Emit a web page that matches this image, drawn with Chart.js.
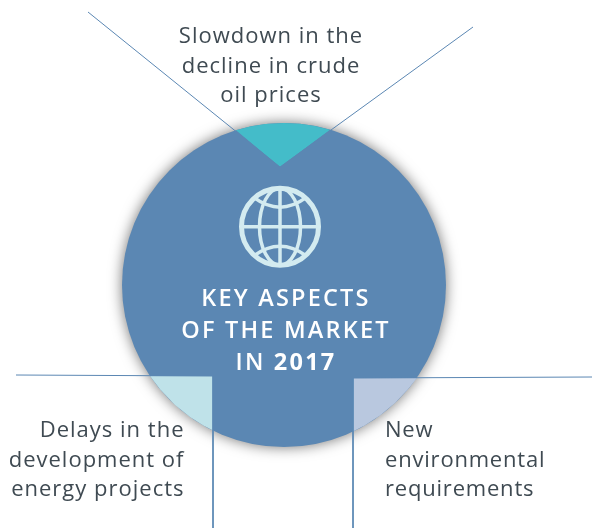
<!DOCTYPE html>
<html>
<head>
<meta charset="utf-8">
<style>
  html, body { margin: 0; padding: 0; background: #fff; }
  #wrap { position: relative; width: 592px; height: 528px; }
</style>
</head>
<body>
<div id="wrap"><canvas id="chart" width="592" height="528"></canvas></div>
<script src="https://cdn.jsdelivr.net/npm/chart.js@4"></script>
<script>
// Diagram values (x right, y down, in picture units)
const hubCentre = [{ x: 284, y: 285 }];
const hubRadius = [162];

const topLeader = [{ x: 88, y: 12 }, { x: 280, y: 167 }, { x: 473, y: 27 }];
const leftLeader = [{ x: 16, y: 375 }, { x: 213, y: 376 }, { x: 213, y: 528 }];
const rightLeader = [{ x: 592, y: 377 }, { x: 353, y: 378 }, { x: 353, y: 528 }];

// each wedge is the band between an arc edge and a straight edge
const topArc = [{ x: 236, y: 130.3 }, { x: 250, y: 126.6 }, { x: 265, y: 124.1 }, { x: 284, y: 123 }, { x: 300, y: 123.8 }, { x: 315, y: 126 }, { x: 330, y: 129.7 }];
const topEdge = [{ x: 236, y: 130.3 }, { x: 280, y: 167 }, { x: 330, y: 129.7 }];
const leftEdge = [{ x: 150, y: 376 }, { x: 213, y: 376 }];
const leftArc = [{ x: 150, y: 376 }, { x: 160, y: 389.3 }, { x: 175, y: 404.9 }, { x: 190, y: 417 }, { x: 203, y: 425.3 }, { x: 213, y: 430.6 }];
const rightEdge = [{ x: 353, y: 378 }, { x: 417, y: 378 }];
const rightArc = [{ x: 353, y: 431.6 }, { x: 365, y: 425.3 }, { x: 380, y: 415.5 }, { x: 395, y: 403 }, { x: 408, y: 389.3 }, { x: 417, y: 378 }];

const topLabel = ['Slowdown in the', 'decline in crude', 'oil prices'];
const leftLabel = ['Delays in the', 'development of', 'energy projects'];
const rightLabel = ['New', 'environmental', 'requirements'];
const hubLabel = ['KEY ASPECTS', 'OF THE MARKET'];
const hubYear = ['IN ', '2017'];

const globeCentre = [{ x: 280, y: 226.7 }];

const HUB = '#5b87b3', TEAL = '#44bcc9', PALE_TEAL = '#bfe2e9', PALE_BLUE = '#b9c8df', LINE = '#5b87b3', GLOBE = '#d3ebf0', TEXT = '#3f4a52';
const FONT = '"Open Sans", "Noto Sans", sans-serif';

function band(data, color) {
  return { type: 'line', data, showLine: true, fill: '+1', borderWidth: 0, backgroundColor: color, pointRadius: 0, tension: 0, clip: false };
}
function edge(data) {
  return { type: 'line', data, showLine: false, fill: false, borderWidth: 0, pointRadius: 0, tension: 0, clip: false };
}
function leader(data) {
  return { type: 'line', data, showLine: true, fill: false, borderWidth: 1, borderColor: LINE, pointRadius: 0, tension: 0, clip: false };
}

// soft shadow under the hub only (hub is the last dataset)
const hubShadow = {
  id: 'hubShadow',
  beforeDatasetDraw(chart, args) {
    if (args.index !== 9) return;
    chart.ctx.save();
    chart.ctx.shadowColor = 'rgba(0,0,0,0.55)';
    chart.ctx.shadowBlur = 14;
  },
  afterDatasetDraw(chart, args) {
    if (args.index === 9) chart.ctx.restore();
  }
};

// texts and the globe sit on top of the marks, placed through the chart's scales
const diagramText = {
  id: 'diagramText',
  afterDatasetsDraw(chart) {
    const { ctx, scales: { x, y } } = chart;
    const lines = (list, px, py, step, align, font, color, spacing) => {
      ctx.save();
      ctx.font = font; ctx.fillStyle = color; ctx.textAlign = align; ctx.textBaseline = 'alphabetic';
      ctx.letterSpacing = spacing;
      list.forEach((t, i) => ctx.fillText(t, x.getPixelForValue(px), y.getPixelForValue(py + i * step)));
      ctx.restore();
    };
    lines(topLabel, 271, 43, 29.5, 'center', '22px ' + FONT, TEXT, '1px');
    lines(leftLabel, 184.5, 437, 29.5, 'right', '22px ' + FONT, TEXT, '1px');
    lines(rightLabel, 385, 437, 29.5, 'left', '22px ' + FONT, TEXT, '0.8px');
    lines(hubLabel, 286, 306, 32, 'center', '600 23.5px ' + FONT, '#ffffff', '2.2px');

    // last hub line: year is heavier than the rest
    ctx.save();
    ctx.fillStyle = '#ffffff'; ctx.textAlign = 'left'; ctx.letterSpacing = '2.2px';
    ctx.font = '600 23.5px ' + FONT;
    const w1 = ctx.measureText(hubYear[0]).width;
    ctx.font = '700 23.5px ' + FONT;
    const w2 = ctx.measureText(hubYear[1]).width;
    const left = x.getPixelForValue(286) - (w1 + w2) / 2;
    ctx.font = '600 23.5px ' + FONT;
    ctx.fillText(hubYear[0], left, y.getPixelForValue(370));
    ctx.font = '700 23.5px ' + FONT;
    ctx.fillText(hubYear[1], left + w1, y.getPixelForValue(370));
    ctx.restore();

    // globe
    const gx = x.getPixelForValue(globeCentre[0].x), gy = y.getPixelForValue(globeCentre[0].y);
    ctx.save();
    ctx.strokeStyle = GLOBE; ctx.lineWidth = 5;
    ctx.beginPath(); ctx.arc(gx, gy, 38.5, 0, Math.PI * 2); ctx.stroke();
    ctx.lineWidth = 3.5;
    ctx.beginPath(); ctx.ellipse(gx, gy, 20.5, 38.5, 0, 0, Math.PI * 2); ctx.stroke();
    ctx.beginPath(); ctx.moveTo(gx, gy - 38.5); ctx.lineTo(gx, gy + 38.5); ctx.stroke();
    ctx.beginPath(); ctx.moveTo(gx - 38.5, gy); ctx.lineTo(gx + 38.5, gy); ctx.stroke();
    ctx.beginPath(); ctx.moveTo(gx - 26, gy - 29); ctx.quadraticCurveTo(gx, gy - 10, gx + 26, gy - 29); ctx.stroke();
    ctx.beginPath(); ctx.moveTo(gx - 26, gy + 29); ctx.quadraticCurveTo(gx, gy + 10, gx + 26, gy + 29); ctx.stroke();
    ctx.restore();
  }
};

new Chart(document.getElementById('chart'), {
  type: 'scatter',
  data: {
    datasets: [
      leader(topLeader), leader(leftLeader), leader(rightLeader),
      band(topArc, TEAL), edge(topEdge),
      band(leftEdge, PALE_TEAL), edge(leftArc),
      band(rightEdge, PALE_BLUE), edge(rightArc),
      { type: 'bubble', data: hubCentre.map((p, i) => ({ x: p.x, y: p.y, r: hubRadius[i] })), backgroundColor: HUB, borderWidth: 0, clip: false }
    ]
  },
  options: {
    responsive: false,
    animation: false,
    layout: { padding: 0, autoPadding: false },
    plugins: { legend: { display: false }, tooltip: { enabled: false } },
    scales: {
      x: { type: 'linear', display: false, min: 0, max: 592 },
      y: { type: 'linear', display: false, min: 0, max: 528, reverse: true }
    }
  },
  plugins: [hubShadow, diagramText]
});
</script>
</body>
</html>
